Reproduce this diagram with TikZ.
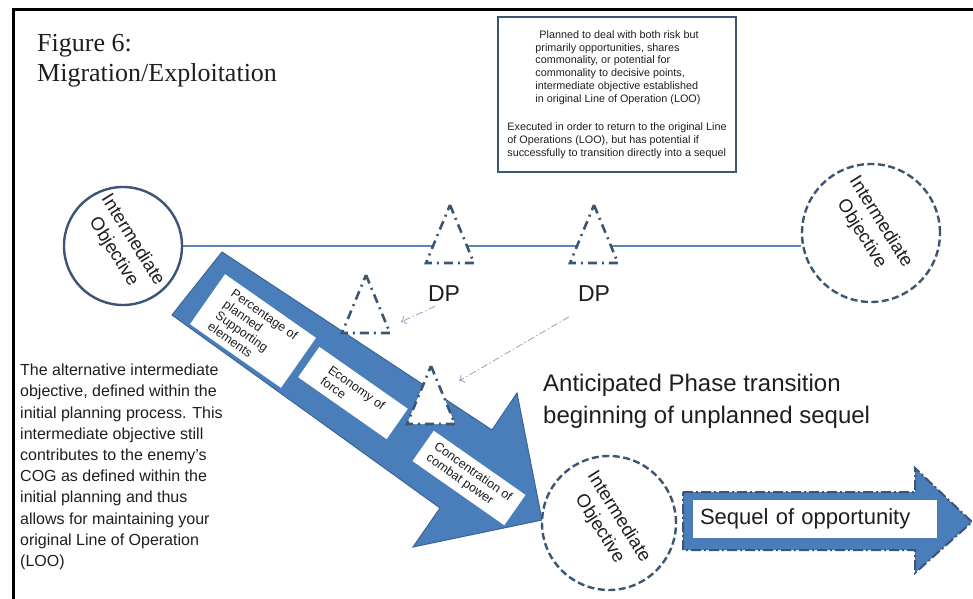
\documentclass[tikz,border=0pt]{standalone}
\usepackage{fontspec}
\setmainfont{Liberation Sans}
\newfontfamily\serifhead{Liberation Serif}
\usepackage{tikz}
\usetikzlibrary{arrows.meta,positioning}
\definecolor{shaftblue}{HTML}{4A7EBB}
\definecolor{rimblue}{HTML}{3A6496}
\definecolor{slate}{HTML}{3B5573}
\definecolor{linkblue}{HTML}{5B86BA}
\definecolor{hintgrey}{HTML}{8FA3BD}
\definecolor{ink}{HTML}{1E1E1E}
\tikzset{
  obj/.style={circle,draw=slate,line width=2.4bp,fill=white,inner sep=0pt},
  objdash/.style={obj,dash pattern=on 7bp off 3.5bp},
  objtext/.style={rotate=-58,align=center,inner sep=0pt,text=ink,
    font=\fontsize{18.5bp}{22.5bp}\selectfont},
  dpmark/.style={draw=slate,fill=white,line width=2.6bp,
    dash pattern=on 9bp off 5bp on 2bp off 5bp},
  dplabel/.style={inner sep=1bp,text=ink,font=\fontsize{23bp}{26bp}\selectfont},
  hint/.style={->,>={To[length=5bp,width=9bp]},draw=hintgrey,line width=0.8bp,
    dash pattern=on 7bp off 2.5bp on 1.5bp off 2.5bp},
  looline/.style={draw=linkblue,line width=1.2bp},
  bigarrow/.style={fill=shaftblue,draw=rimblue,line width=1bp},
  seqarrow/.style={fill=shaftblue,draw=slate,line width=2bp,
    dash pattern=on 10bp off 3bp on 2bp off 3bp},
  tag/.style={fill=white,rotate=-35,align=left,inner sep=3bp,text=ink,
    font=\fontsize{12.5bp}{13.5bp}\selectfont},
  notebox/.style={draw=slate,line width=2.5bp,align=left,inner sep=0pt,
    minimum width=238bp,minimum height=155bp,text=ink,
    font=\fontsize{10.8bp}{12.9bp}\selectfont},
}
\begin{document}
\begin{tikzpicture}[x=1bp,y=-1bp]
\useasboundingbox (0,0) rectangle (973,599);
% frame and title
\draw[line width=3bp] (13,599) -- (13,10) -- (973,10);
\node[anchor=west,align=left,inner sep=0pt,text=ink,
  font=\serifhead\fontsize{26bp}{30bp}\selectfont] (title) at (37,61)
  {Figure 6:\\Migration/Exploitation};

\node[notebox] (plan) at (617,94.5) {%
\hspace*{32bp}Planned to deal with both risk but\\
\hspace*{28bp}primarily opportunities, shares\\
\hspace*{28bp}commonality, or potential for\\
\hspace*{28bp}commonality to decisive points,\\
\hspace*{28bp}intermediate objective established\\
\hspace*{28bp}in original Line of Operation (LOO)\\[15bp]
Executed in order to return to the original Line\\
of Operations (LOO), but has potential if\\
successfully to transition directly into a sequel};

% original line of operation
\node[obj,minimum size=118bp] (obj1) at (123,246) {};
\node[objtext] (obj1txt) at (obj1) {Intermediate\\Objective};
\node[objdash,minimum size=138bp] (obj2) at (871,233) {};
\node[objtext] (obj2txt) at (871,228) {Intermediate\\Objective};
\draw[looline] (obj1.east) -- (obj1.east -| obj2.west);

% branch
\draw[bigarrow] (222,252) -- (492,430) -- (517,393) -- (542,520)
  -- (413,547) -- (440,508) -- (172,315) -- cycle;
\node[tag,minimum width=111bp,minimum height=61bp] (pct) at (253,331)
  {Percentage of\\planned\\Supporting\\elements};
\node[tag,minimum width=108bp,minimum height=37bp] (eco) at (353,393)
  {Economy of\\force};
\node[tag,minimum width=112bp,minimum height=37bp] (conc) at (469,478)
  {Concentration of\\combat power};
\node[objdash,minimum size=134bp] (obj3) at (609,523) {};
\node[objtext] (obj3txt) at (obj3) {Intermediate\\Objective};

% decisive points
\coordinate (m1) at (450,234);
\coordinate (m2) at (594,234);
\coordinate (m3) at (366,304);
\coordinate (m4) at (431,395);
\foreach \m in {m1,m2,m3,m4}
  \draw[dpmark] (\m) +(0,-29) -- +(24,29) -- +(-24,29) -- cycle;
\node[dplabel,below=50bp of m1,xshift=-6bp] (dp1lab) {DP};
\node[dplabel,below=50bp of m2] (dp2lab) {DP};
\coordinate (m3tip) at (401,322);
\coordinate (m4tip) at (459,381);
\draw[hint,shorten <=10bp] (dp1lab.south) -- (m3tip);
\draw[hint,shorten <=29bp] (dp2lab.south) -- (m4tip);

% sequel
\node[anchor=west,align=left,inner sep=0pt,text=ink,
  font=\fontsize{24bp}{32bp}\selectfont] (phase) at (543,401)
  {Anticipated Phase transition\\beginning of unplanned sequel};
\draw[seqarrow] (683,492) -- (915,492) -- (915,468) -- (972,522)
  -- (915,573) -- (915,550) -- (683,550) -- cycle;
\node[fill=white,minimum height=38bp,text width=230bp,inner xsep=7bp,
  align=left,text=ink,font=\fontsize{22bp}{26bp}\selectfont] (seq) at (815,519)
  {Sequel of opportunity};

\node[anchor=west,align=left,inner sep=0pt,text=ink,
  font=\fontsize{16bp}{21.2bp}\selectfont] (alt) at (20,467)
  {The alternative intermediate\\
   objective, defined within the\\
   initial planning process.  This\\
   intermediate objective still\\
   contributes to the enemy's\\
   COG as defined within the\\
   initial planning and thus\\
   allows for maintaining your\\
   original Line of Operation\\
   (LOO)};
\end{tikzpicture}
\end{document}
